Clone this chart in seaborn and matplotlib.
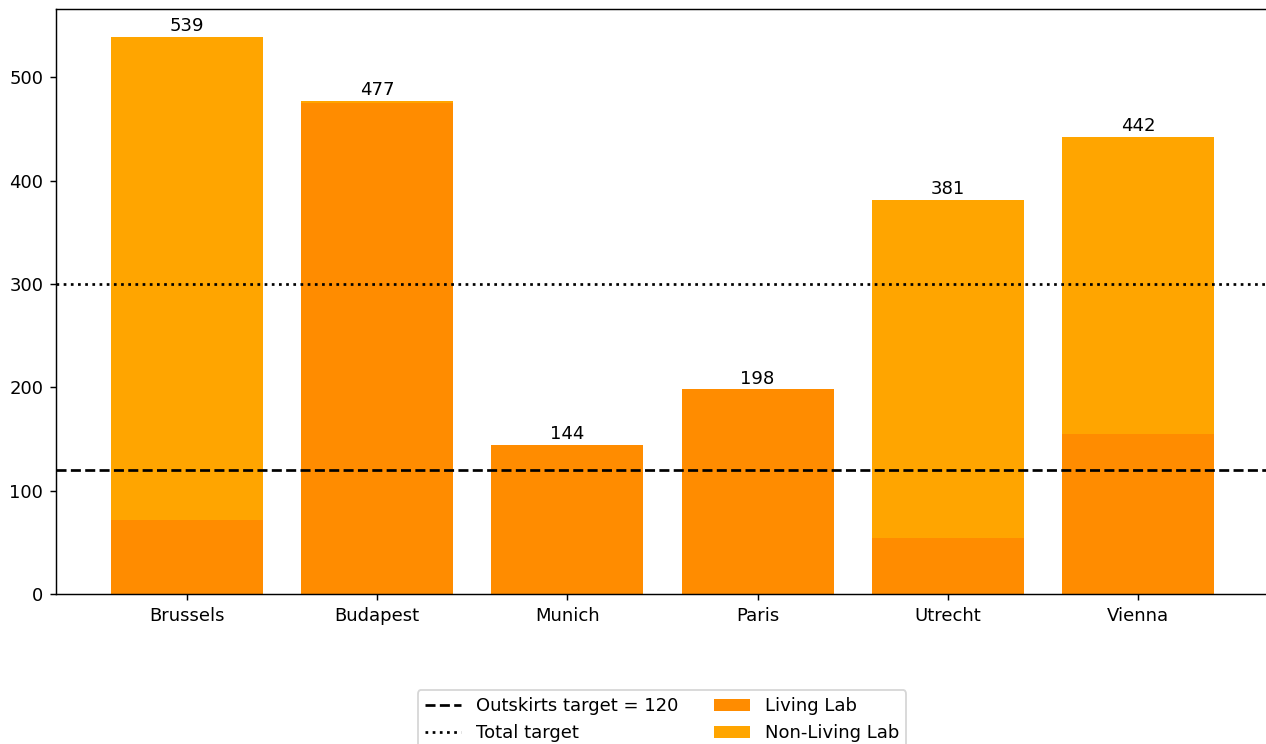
import matplotlib
matplotlib.use("Agg")
import matplotlib.pyplot as plt
import seaborn as sns
import pandas as pd

cities = ["Brussels", "Budapest", "Munich", "Paris", "Utrecht", "Vienna"]
living_lab = [72, 475, 144, 198, 54, 155]
total = [539, 477, 144, 198, 381, 442]
outskirts_target = 120
total_target = 300

plt.rcParams.update(matplotlib.rcParamsDefault)
plt.rcParams['font.family'] = ['DejaVu Sans']

df = pd.DataFrame({"city": cities, "living": living_lab, "total": total})

fig = plt.figure(figsize=(1266 / 130, 744 / 130), dpi=130)
ax = fig.add_axes([56 / 1266, 150 / 744, 1213 / 1266, 585 / 744])

sns.barplot(data=df, x="city", y="total", color="#FFA500", saturation=1,
            width=0.8, ax=ax, label="Non-Living Lab", linewidth=0)
sns.barplot(data=df, x="city", y="living", color="#FF8C00", saturation=1,
            width=0.8, ax=ax, label="Living Lab", linewidth=0)
if ax.get_legend() is not None:
    ax.get_legend().remove()

ax.bar_label(ax.containers[0], labels=[str(v) for v in total], padding=1)

ax.axhline(outskirts_target, color="black", linestyle="--", linewidth=1.5,
           label=f"Outskirts target = {outskirts_target}")
ax.axhline(total_target, color="black", linestyle=":", linewidth=1.5,
           label="Total target")

ax.set_xlim(-0.69, 5.69)
ax.set_ylim(0, 566)
ax.set_xlabel("")
ax.set_ylabel("")

h, lab = ax.get_legend_handles_labels()
order = [lab.index(f"Outskirts target = {outskirts_target}"), lab.index("Total target"),
         lab.index("Living Lab"), lab.index("Non-Living Lab")]
fig.legend([h[i] for i in order], [lab[i] for i in order], ncol=2,
           loc="upper center", bbox_to_anchor=(662 / 1266, 1 - 681 / 744),
           frameon=True)

fig.savefig("out.png", dpi=130)
